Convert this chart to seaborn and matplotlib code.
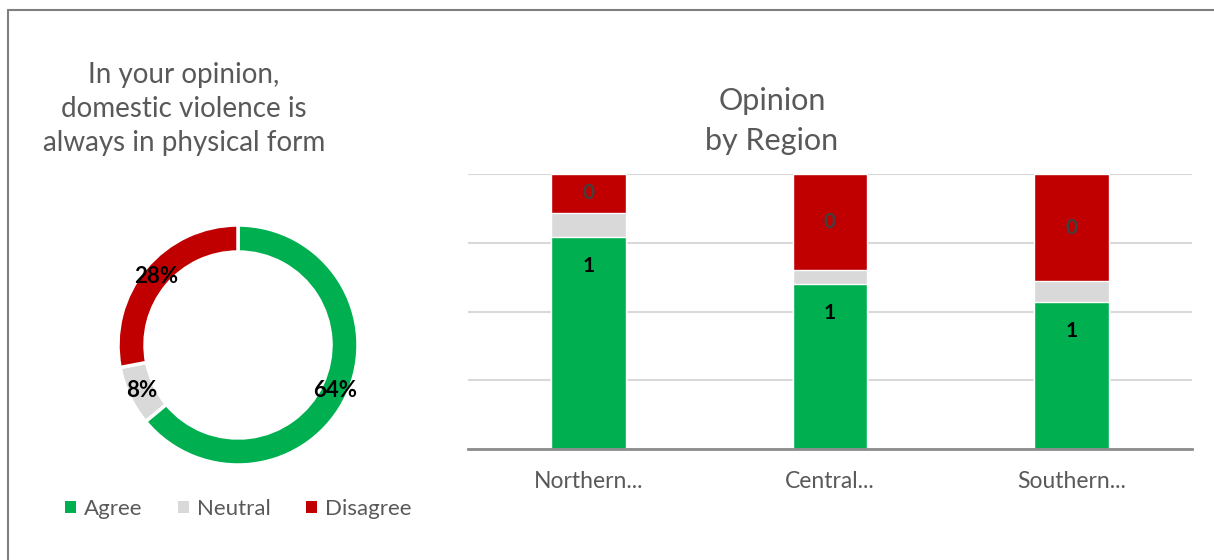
import matplotlib
matplotlib.use("Agg")
import matplotlib.pyplot as plt
import seaborn as sns
import numpy as np
import pandas as pd
from matplotlib.patches import Patch
from matplotlib.lines import Line2D

sns.set_theme(style="white")
plt.rcParams['font.family'] = ['Lato', 'DejaVu Sans']

# ---- data ----
donut_labels = ["Agree", "Neutral", "Disagree"]
donut_values = [64, 8, 28]
regions = ["Northern...", "Central...", "Southern..."]
agree = [0.77, 0.60, 0.535]
neutral = [0.09, 0.05, 0.075]
disagree = [0.14, 0.35, 0.39]

GREEN = "#00B050"
GRAY = "#D9D9D9"
RED = "#C00000"
TXT = "#595959"
colors = [GREEN, GRAY, RED]

W, H = 1214, 560
fig = plt.figure(figsize=(W / 100, H / 100), dpi=100)

def fx(px):
    return px / W

def fy(py):
    return 1 - py / H

# outer frame (top and left edges visible)
fig.add_artist(Line2D([fx(8), 1.0], [fy(10), fy(10)], color="#7F7F7F", lw=1.5, transform=fig.transFigure))
fig.add_artist(Line2D([fx(8), fx(8)], [fy(10), 0.0], color="#7F7F7F", lw=1.5, transform=fig.transFigure))

# ---- donut ----
cx, cy, R = 238, 345, 120
half = 132
axd = fig.add_axes([fx(cx - half), fy(cy + half), half * 2 / W, half * 2 / H])
wedges, texts, autotexts = axd.pie(
    donut_values, colors=colors, startangle=90, counterclock=False,
    wedgeprops=dict(width=0.225, edgecolor="white", linewidth=2.5),
    autopct=lambda p: f"{p:.0f}%", pctdistance=0.89,
    textprops=dict(fontsize=16, fontweight="bold", color="black"))
lim = half / R
axd.set_xlim(-lim, lim)
axd.set_ylim(-lim, lim)
axd.set_aspect("equal")
axd.axis("off")

fig.text(fx(184), fy(109), "In your opinion,\ndomestic violence is\nalways in physical form",
         ha="center", va="center", fontsize=20, color=TXT, linespacing=1.38)

handles = [Patch(facecolor=c, edgecolor="none") for c in colors]
fig.legend(handles, donut_labels, loc="center", bbox_to_anchor=(fx(238), fy(509)), ncol=3,
           frameon=False, fontsize=16, labelcolor=TXT, handlelength=0.5, handleheight=0.5,
           handletextpad=0.35, columnspacing=1.6)

# ---- stacked bars ----
axb = fig.add_axes([fx(468), fy(449), 724 / W, 275 / H])
df = pd.DataFrame({"region": regions, "agree": agree, "neutral": neutral, "disagree": disagree})
df["top_neutral"] = df["agree"] + df["neutral"]
df["top_dis"] = df["top_neutral"] + df["disagree"]

sns.barplot(data=df, x="region", y="top_dis", color=RED, width=0.31, saturation=1, ax=axb, zorder=3)
sns.barplot(data=df, x="region", y="top_neutral", color=GRAY, width=0.31, saturation=1, ax=axb, zorder=3)
sns.barplot(data=df, x="region", y="agree", color=GREEN, width=0.31, saturation=1, ax=axb, zorder=3)

for i, row in df.iterrows():
    axb.text(i, row["agree"] - 0.105, f"{row['agree']:.0f}", ha="center", va="center",
             fontsize=15, fontweight="bold", color="black", zorder=5)
    axb.text(i, (row["top_neutral"] + row["top_dis"]) / 2, f"{row['disagree']:.0f}", ha="center", va="center",
             fontsize=15, fontweight="bold", color="#404040", zorder=5)

axb.set_xlim(-0.5, 2.5)
axb.set_ylim(0, 1.0)
axb.set_yticks([0, 0.25, 0.5, 0.75, 1.0])
axb.yaxis.grid(True, color=GRAY, lw=1.5, zorder=0)
axb.set_axisbelow(True)
axb.tick_params(axis="y", left=False, labelleft=False)
axb.tick_params(axis="x", bottom=False, labelsize=16.5, labelcolor=TXT, pad=10)
axb.set_xlabel("")
axb.set_ylabel("")
for s in ["top", "right", "left"]:
    axb.spines[s].set_visible(False)
axb.spines["bottom"].set_color("#8C8C8C")
axb.spines["bottom"].set_linewidth(2)
axb.spines["bottom"].set_zorder(6)

fig.text(fx(772), fy(121), "Opinion\nby Region", ha="center", va="center",
         fontsize=22, color=TXT, linespacing=1.5)

fig.savefig("out.png", dpi=100)
